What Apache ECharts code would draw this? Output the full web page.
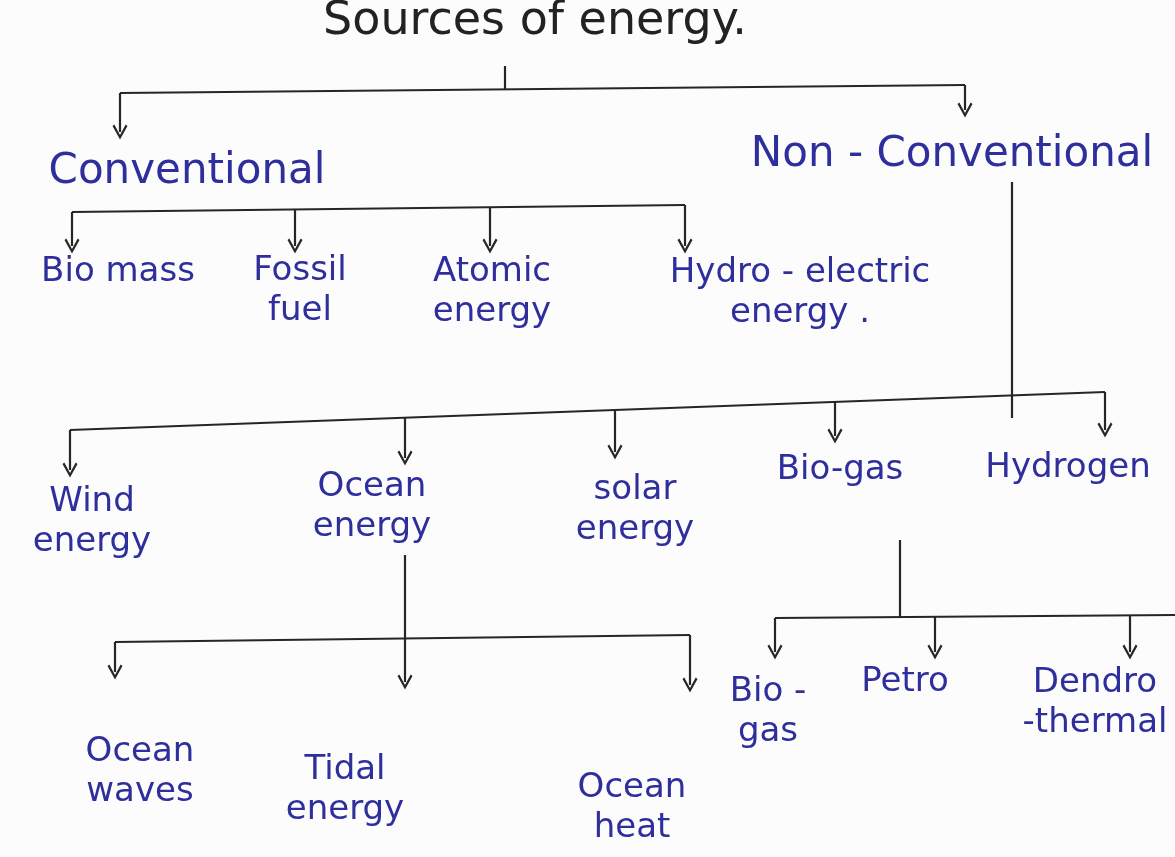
<!DOCTYPE html>
<html>
<head>
<meta charset="utf-8">
<script src="https://cdn.jsdelivr.net/npm/echarts@6/dist/echarts.min.js"></script>
<style>
  html, body { margin: 0; padding: 0; background: #fcfcfc; }
  #main { width: 1175px; height: 857px; }
</style>
</head>
<body>
<div id="main"></div>
<script>
// tree content: labels and parent index of each node
var labels = [
  'Sources of energy.',          // 0
  'Conventional',                // 1
  'Non - Conventional',          // 2
  'Bio mass',                    // 3
  'Fossil\nfuel',                // 4
  'Atomic\nenergy',              // 5
  'Hydro - electric\nenergy .',  // 6
  'Wind\nenergy',                // 7
  'Ocean\nenergy',               // 8
  'solar\nenergy',               // 9
  'Bio-gas',                     // 10
  'Hydrogen',                    // 11
  'Ocean\nwaves',                // 12
  'Tidal\nenergy',               // 13
  'Ocean\nheat',                 // 14
  'Bio -\ngas',                  // 15
  'Petro',                       // 16
  'Dendro\n-thermal'             // 17
];
var parents = [-1, 0, 0, 1, 1, 1, 1, 2, 2, 2, 2, 2, 8, 8, 8, 10, 10, 10];

// layout of the drawing (page units, y downward)
var textPos = [
  [535, 22], [187, 172], [952, 155],
  [118, 272], [300, 291], [492, 292], [800, 293],
  [92, 522], [372, 507], [635, 510], [840, 470], [1068, 468],
  [140, 772], [345, 790], [632, 808], [768, 712], [905, 682], [1095, 703]
];
var arrowTip = [
  null, [120, 132], [965, 110],
  [72, 246], [295, 246], [490, 246], [685, 246],
  [70, 470], [405, 458], [615, 452], [835, 436], [1105, 430],
  [115, 672], [405, 682], [690, 685], [775, 652], [935, 652], [1130, 652]
];
var bars = {
  0: { y: [93, 85], stub: [505, 66] },
  1: { y: [212, 205] },
  2: { y: [430, 392], stub: [1012, 182, 418] },
  8: { y: [642, 635], stub: [405, 555] },
  10: { y: [618, 615], stub: [900, 540], right: 1175 }
};
var fontSizes = [46, 42, 42, 34, 34, 34, 34, 34, 34, 34, 34, 34, 34, 34, 34, 34, 34, 34];

var segs = [];
var arrows = [];
Object.keys(bars).forEach(function (k) {
  var p = +k;
  var b = bars[k];
  var kids = [];
  parents.forEach(function (q, i) { if (q === p) kids.push(i); });
  var xs = kids.map(function (i) { return arrowTip[i][0]; });
  if (b.stub) xs.push(b.stub[0]);
  var xL = Math.min.apply(null, xs);
  var xR = b.right || Math.max.apply(null, xs);
  var yAt = function (x) { return b.y[0] + (b.y[1] - b.y[0]) * (x - xL) / (xR - xL); };
  segs.push({ coords: [[xL, yAt(xL)], [xR, yAt(xR)]] });
  if (b.stub) segs.push({ coords: [[b.stub[0], b.stub[1]], [b.stub[0], b.stub[2] || yAt(b.stub[0])]] });
  kids.forEach(function (i) {
    var t = arrowTip[i];
    arrows.push({ coords: [[t[0], yAt(t[0])], [t[0], t[1]]] });
  });
});

var myChart = echarts.init(document.getElementById('main'));
var option = {
  animation: false,
  backgroundColor: '#fcfcfc',
  grid: { left: 0, right: 0, top: 0, bottom: 0 },
  xAxis: { type: 'value', min: 0, max: 1175, show: false },
  yAxis: { type: 'value', min: 0, max: 857, inverse: true, show: false },
  series: [
    {
      type: 'lines',
      coordinateSystem: 'cartesian2d',
      polyline: true,
      symbol: 'none',
      silent: true,
      lineStyle: { color: '#262626', width: 2.2, opacity: 1 },
      data: segs
    },
    {
      type: 'lines',
      coordinateSystem: 'cartesian2d',
      symbol: ['none', 'path://M5,0 L10,8.5 L8.8,9.4 L5,2.8 L1.2,9.4 L0,8.5 Z'],
      symbolSize: [20, 15],
      silent: true,
      lineStyle: { color: '#262626', width: 2.2, opacity: 1 },
      data: arrows
    },
    {
      type: 'scatter',
      symbolSize: 0,
      silent: true,
      itemStyle: { opacity: 1 },
      data: labels.map(function (name, i) {
        return {
          name: name,
          value: textPos[i],
          label: {
            fontSize: fontSizes[i],
            lineHeight: fontSizes[i] + 6,
            color: i === 0 ? '#222222' : '#2e2f9c'
          }
        };
      }),
      label: {
        show: true,
        position: 'inside',
        formatter: '{b}',
        fontFamily: 'DejaVu Sans',
        align: 'center',
        verticalAlign: 'middle',
        opacity: 1
      }
    }
  ]
};
myChart.setOption(option);
</script>
</body>
</html>
